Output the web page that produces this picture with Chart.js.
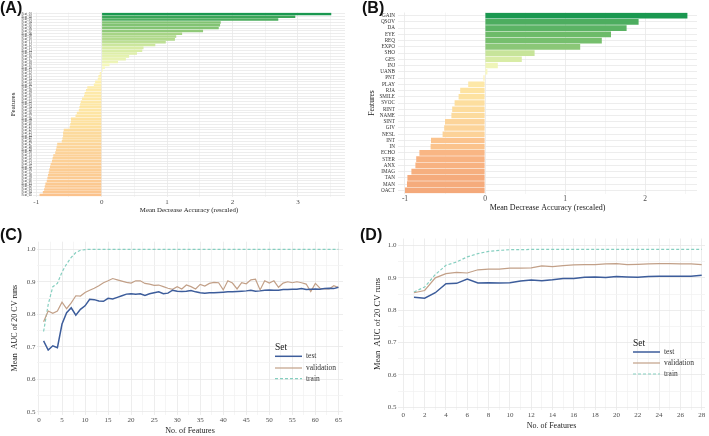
<!DOCTYPE html>
<html><head><meta charset="utf-8">
<script src="https://cdn.jsdelivr.net/npm/chart.js@4.4.1/dist/chart.umd.min.js"></script>
<style>
body{margin:0;background:#fff;width:709px;height:436px;position:relative;overflow:hidden}
canvas{position:absolute}
.pl{position:absolute;font:bold 16px "Liberation Sans",Arial,sans-serif;color:#111;line-height:18px}
</style></head><body>
<canvas id="cA" width="355" height="216" style="left:0;top:0"></canvas>
<canvas id="cB" width="354" height="216" style="left:355px;top:0"></canvas>
<canvas id="cC" width="355" height="220" style="left:0;top:216px"></canvas>
<canvas id="cD" width="354" height="220" style="left:355px;top:216px"></canvas>
<div class="pl" style="left:0;top:-1px">(A)</div>
<div class="pl" style="left:362px;top:-1px">(B)</div>
<div class="pl" style="left:0;top:226px">(C)</div>
<div class="pl" style="left:360px;top:226px">(D)</div>
<script>
// ---------- DATA ----------
const featA = ['Feat_01','Feat_02','Feat_03','Feat_04','Feat_05','Feat_06','Feat_07','Feat_08','Feat_09','Feat_10',
'Feat_11','Feat_12','Feat_13','Feat_14','Feat_15','Feat_16','Feat_17','Feat_18','Feat_19','Feat_20',
'Feat_21','Feat_22','Feat_23','Feat_24','Feat_25','Feat_26','Feat_27','Feat_28','Feat_29','Feat_30',
'Feat_31','Feat_32','Feat_33','Feat_34','Feat_35','Feat_36','Feat_37','Feat_38','Feat_39','Feat_40',
'Feat_41','Feat_42','Feat_43','Feat_44','Feat_45','Feat_46','Feat_47','Feat_48','Feat_49','Feat_50',
'Feat_51','Feat_52','Feat_53','Feat_54','Feat_55','Feat_56','Feat_57','Feat_58','Feat_59','Feat_60',
'Feat_61','Feat_62','Feat_63','Feat_64','Feat_65'];
const mdaA = [3.51,2.96,2.70,1.82,1.81,1.79,1.55,1.23,1.14,1.12,
0.98,0.82,0.64,0.62,0.54,0.42,0.37,0.25,0.12,0.05,
0.02,-0.03,-0.05,-0.06,-0.10,-0.12,-0.22,-0.24,-0.26,-0.27,
-0.30,-0.32,-0.33,-0.34,-0.35,-0.38,-0.40,-0.47,-0.47,-0.48,
-0.49,-0.58,-0.59,-0.59,-0.60,-0.61,-0.68,-0.69,-0.70,-0.71,
-0.74,-0.75,-0.76,-0.78,-0.79,-0.80,-0.81,-0.82,-0.83,-0.84,
-0.86,-0.87,-0.88,-0.90,-0.95];

const featB = ['GAIN','QSOV','DA','EYE','REQ','EXPO','SHO','GES','INJ','UANB','PNT','PLAY','RJA','SMILE',
'SVOC','RINT','NAME','SINT','GIV','NESL','INT','IN','ECHO','STER','ANX','IMAG','TAN','MAN','OACT'];
const mdaB = [2.53,1.92,1.77,1.575,1.46,1.19,0.62,0.46,0.16,0.03,-0.02,-0.21,-0.31,-0.33,
-0.38,-0.41,-0.42,-0.50,-0.51,-0.53,-0.675,-0.68,-0.82,-0.86,-0.87,-0.92,-0.97,-0.975,-1.0];

const setNames = ['test','validation','train'];

const nFeatC = [1,2,3,4,5,6,7,8,9,10,11,12,13,14,15,16,17,18,19,20,21,22,23,24,25,26,27,28,29,30,
31,32,33,34,35,36,37,38,39,40,41,42,43,44,45,46,47,48,49,50,51,52,53,54,55,56,57,58,59,60,61,62,63,64,65];
const testC = [0.718,0.690,0.703,0.697,0.770,0.805,0.820,0.797,0.815,0.826,
0.846,0.845,0.841,0.840,0.849,0.847,0.852,0.857,0.862,0.863,
0.862,0.863,0.858,0.863,0.866,0.869,0.863,0.865,0.874,0.871,
0.870,0.871,0.873,0.869,0.866,0.865,0.866,0.866,0.867,0.868,
0.869,0.869,0.870,0.871,0.872,0.874,0.871,0.872,0.874,0.875,
0.874,0.874,0.876,0.876,0.877,0.877,0.879,0.876,0.877,0.878,
0.877,0.879,0.880,0.879,0.883];
const valC = [0.777,0.810,0.803,0.810,0.837,0.817,0.835,0.857,0.856,0.867,
0.874,0.880,0.888,0.897,0.903,0.910,0.906,0.902,0.898,0.896,
0.903,0.903,0.895,0.893,0.889,0.890,0.885,0.880,0.877,0.885,
0.878,0.890,0.885,0.878,0.892,0.887,0.895,0.898,0.897,0.875,
0.903,0.896,0.878,0.897,0.894,0.906,0.908,0.875,0.903,0.896,
0.903,0.883,0.896,0.900,0.897,0.900,0.897,0.893,0.870,0.895,
0.880,0.878,0.878,0.888,0.882];
const trainC = [0.747,0.830,0.885,0.895,0.930,0.955,0.975,0.990,0.997,0.999,
1,1,1,1,1,1,1,1,1,1, 1,1,1,1,1,1,1,1,1,1, 1,1,1,1,1,1,1,1,1,1,
1,1,1,1,1,1,1,1,1,1, 1,1,1,1,1,1,1,1,1,1, 1,1,1,1,1];

const nFeatD = [1,2,3,4,5,6,7,8,9,10,11,12,13,14,15,16,17,18,19,20,21,22,23,24,25,26,27,28];
const testD = [0.840,0.837,0.854,0.882,0.883,0.896,0.884,0.885,0.884,0.885,0.890,0.893,0.891,0.894,
0.898,0.898,0.902,0.903,0.901,0.904,0.903,0.902,0.904,0.905,0.905,0.905,0.905,0.908];
const valD = [0.854,0.861,0.900,0.913,0.917,0.915,0.925,0.927,0.927,0.930,0.930,0.931,0.937,0.935,
0.938,0.940,0.941,0.941,0.943,0.944,0.941,0.942,0.943,0.944,0.944,0.943,0.943,0.941];
const trainD = [0.856,0.872,0.910,0.939,0.949,0.965,0.975,0.982,0.985,0.987,0.987,0.988,0.988,0.988,
0.988,0.988,0.988,0.988,0.988,0.988,0.988,0.988,0.988,0.988,0.988,0.988,0.988,0.988];

// ---------- STYLE ----------
const SERIF = "'Liberation Serif','Times New Roman',serif";
const TICK_COL = '#4d4d4d', TITLE_COL = '#1a1a1a';
const GRID_MAJ = '#e9e9e9', GRID_MIN = '#f3f3f3';
const setColors = {test:'#3d5d9b', validation:'#c2a088', train:'#86cfc0'};

function hex(h){return [1,3,5].map(i=>parseInt(h.substr(i,2),16));}
function lerp(stops,t){
  t=Math.max(0,Math.min(1,t));
  for(let i=1;i<stops.length;i++){
    if(t<=stops[i][0]){
      const [t0,c0]=stops[i-1],[t1,c1]=stops[i];
      const f=(t-t0)/(t1-t0), a=hex(c0), b=hex(c1);
      return 'rgb('+a.map((v,k)=>Math.round(v+(b[k]-v)*f)).join(',')+')';
    }
  }
  return stops[stops.length-1][1];
}
const posStops=[[0,'#fbf9c2'],[0.2,'#d5eba3'],[0.4,'#98cc7d'],[0.6,'#72bd6b'],[0.8,'#44a95c'],[1,'#1a9850']];
const negStops=[[0,'#fdf3b5'],[0.13,'#fde2a0'],[0.2,'#fcd49a'],[0.28,'#fbc08a'],[0.34,'#f8b382'],[0.4,'#f4a87a'],[1,'#e8754f']];
function barColor(v,maxv){return v>=0?lerp(posStops,v/maxv):lerp(negStops,-v/maxv);}

const isInt = v => Math.abs(v-Math.round(v))<1e-9;
function gridCol(majorTest){return ctx=>{const v=ctx.tick&&ctx.tick.value; return majorTest(v)?GRID_MAJ:GRID_MIN;};}

function barChart(id, labels, vals, o){
  const maxv = Math.max(...vals);
  return new Chart(document.getElementById(id), {
    type:'bar',
    data:{labels, datasets:[{data:vals, backgroundColor:vals.map(v=>barColor(v,maxv)), borderWidth:0,
      barPercentage:0.9, categoryPercentage:1}]},
    options:{
      indexAxis:'y', responsive:false, animation:false, events:[],
      layout:{padding:{top:o.top,right:o.right,left:0,bottom:0}},
      plugins:{legend:{display:false},tooltip:{enabled:false}},
      scales:{
        x:{type:'linear', min:o.xmin, max:o.xmax,
          afterBuildTicks:s=>{s.ticks=o.xticks.map(v=>({value:v}));},
          ticks:{callback:v=>isInt(v)?String(v):'', font:{family:SERIF,size:o.xtickSize}, color:TICK_COL, padding:o.xtickPad, maxRotation:0, autoSkip:false},
          grid:{color:gridCol(isInt), drawTicks:false, lineWidth:0.8},
          border:{display:false},
          title:{display:true, text:'Mean Decrease Accuracy (rescaled)', font:{family:SERIF,size:o.xtitleSize}, color:TITLE_COL, padding:{top:0,bottom:o.xtitlePad}},
          afterFit:s=>{s.height=o.xh;}
        },
        y:{type:'category', grid:{offset:false, color:GRID_MAJ, drawTicks:false, lineWidth:0.8},
          border:{display:false},
          ticks:{font:{family:SERIF,size:o.ytickSize}, color:'#333', padding:o.ytickPad, autoSkip:false},
          title:{display:true, text:'Features', font:{family:SERIF,size:o.ytitleSize}, color:TITLE_COL, padding:{top:o.ytitlePad,bottom:0}},
          afterFit:s=>{s.width=o.yw;}
        }
      }
    }
  });
}

barChart('cA', featA, mdaA, {top:12.5, right:10, xmin:-1.05, xmax:3.72,
  xticks:[-1,-0.5,0,0.5,1,1.5,2,2.5,3,3.5], xtickSize:7, xtickPad:1, xtitleSize:6.8, xtitlePad:1.8, xh:19.5,
  ytickSize:3.3, ytickPad:1, ytitleSize:7, ytitlePad:9, yw:33});

barChart('cB', featB, mdaB, {top:12.5, right:12, xmin:-1.0875, xmax:2.65,
  xticks:[-1,-0.5,0,0.5,1,1.5,2,2.5], xtickSize:7.5, xtickPad:1, xtitleSize:8, xtitlePad:3.6, xh:22.5,
  ytickSize:5.2, ytickPad:3, ytitleSize:7.5, ytitlePad:12.5, yw:43});

function legendPlugin(p){
  return {id:'setLegend', afterDraw(chart){
    const c=chart.ctx; c.save();
    c.textBaseline='middle'; c.textAlign='left';
    c.fillStyle=TITLE_COL; c.font='9.5px '+SERIF;
    c.fillText('Set', p.x, p.setY);
    setNames.forEach((nm,i)=>{
      const y=p.ys[i];
      c.strokeStyle=setColors[nm]; c.lineWidth=nm==='test'?1.5:1.2;
      c.setLineDash(nm==='train'?[3,2]:[]);
      c.beginPath(); c.moveTo(p.x,y); c.lineTo(p.x+p.len,y); c.stroke();
      c.setLineDash([]);
      c.fillStyle='#333'; c.font='7.5px '+SERIF;
      c.fillText(nm, p.x+p.len+4, y);
    });
    c.restore();
  }};
}

function lineChart(id, xs, series, o){
  const ds = [['test',series.test],['validation',series.validation],['train',series.train]].map(([nm,arr])=>({
    label:nm, data:xs.map((x,i)=>({x, y:arr[i]})), borderColor:setColors[nm],
    borderWidth:nm==='test'?1.5:1.2, borderDash:nm==='train'?[3,2]:[], pointRadius:0, tension:0, fill:false
  }));
  return new Chart(document.getElementById(id), {
    type:'line',
    data:{datasets:ds},
    options:{
      responsive:false, animation:false, events:[],
      layout:{padding:{top:o.top,right:o.right,left:0,bottom:0}},
      plugins:{legend:{display:false},tooltip:{enabled:false}},
      scales:{
        x:{type:'linear', min:o.xmin, max:o.xmax,
          afterBuildTicks:s=>{s.ticks=o.xticks.map(v=>({value:v}));},
          ticks:{callback:v=>o.xMajor(v)?String(v):'', font:{family:SERIF,size:7}, color:TICK_COL, padding:o.xtickPad, maxRotation:0, autoSkip:false},
          grid:{color:gridCol(o.xMajor), drawTicks:false, lineWidth:0.8},
          border:{display:false},
          title:{display:true, text:'No. of Features', font:{family:SERIF,size:8}, color:TITLE_COL, padding:{top:0,bottom:o.xtitlePad}},
          afterFit:s=>{s.height=o.xh;}
        },
        y:{type:'linear', min:o.ymin, max:o.ymax,
          afterBuildTicks:s=>{s.ticks=[0.5,0.55,0.6,0.65,0.7,0.75,0.8,0.85,0.9,0.95,1.0].map(v=>({value:v}));},
          ticks:{callback:v=>Math.round(v*100)%10===0?v.toFixed(1):'', font:{family:SERIF,size:7}, color:TICK_COL, padding:o.ytickPad, autoSkip:false},
          grid:{color:gridCol(v=>Math.round(v*100)%10===0), drawTicks:false, lineWidth:0.8},
          border:{display:false},
          title:{display:true, text:'Mean  AUC of 20 CV runs', font:{family:SERIF,size:o.ytitleSize}, color:TITLE_COL, padding:{top:o.ytitlePad,bottom:0}},
          afterFit:s=>{s.width=o.yw;}
        }
      }
    },
    plugins:[legendPlugin(o.legend)]
  });
}

lineChart('cC', nFeatC, {test:testC, validation:valC, train:trainC}, {
  top:25.7, right:12, xmin:-0.43, xmax:66.0, ymin:0.4914, ymax:1.0234,
  xticks:[0,2.5,5,7.5,10,12.5,15,17.5,20,22.5,25,27.5,30,32.5,35,37.5,40,42.5,45,47.5,50,52.5,55,57.5,60,62.5,65],
  xMajor:v=>Math.round(v*10)%50===0, xtickPad:1, xtitlePad:0.2, xh:21.5,
  ytickPad:1.5, ytitleSize:8, ytitlePad:10, yw:37,
  legend:{x:275, setY:131.7, ys:[140.3,152,162.7], len:27}
});

lineChart('cD', nFeatD, {test:testD, validation:valD, train:trainD}, {
  top:22.5, right:4, xmin:-0.5, xmax:28.31, ymin:0.493, ymax:1.0217,
  xticks:[0,1,2,3,4,5,6,7,8,9,10,11,12,13,14,15,16,17,18,19,20,21,22,23,24,25,26,27,28],
  xMajor:v=>Math.round(v)%2===0, xtickPad:1, xtitlePad:5, xh:26.5,
  ytickPad:1.5, ytitleSize:8.5, ytitlePad:18, yw:43,
  legend:{x:278, setY:127, ys:[136,147,158], len:27}
});
</script>
</body></html>
